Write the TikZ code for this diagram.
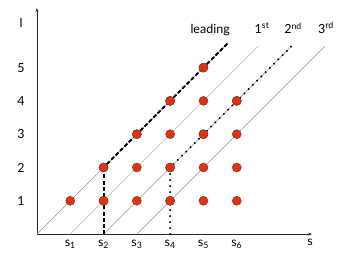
\documentclass[tikz,border=0pt]{standalone}
\usepackage{fontspec}
\setmainfont{Lato}
\usepackage{tikz}
\usetikzlibrary{arrows.meta,positioning}
\definecolor{dotred}{RGB}{240,45,5}
\definecolor{guidegray}{RGB}{150,150,150}

\begin{document}
\begin{tikzpicture}[x=33.3pt, y=33.3pt,
    every node/.style={font=\fontsize{12.5}{14}\selectfont},
    pt/.style={circle, fill=dotred, draw=black!70, line width=0.5pt, inner sep=0pt, minimum size=9pt},
    guide/.style={guidegray, line width=0.5pt},
    leadline/.style={line width=2pt, dash pattern=on 4pt off 2.2pt},
    dotline/.style={line width=2.2pt, line cap=round, dash pattern=on 0pt off 6pt}]
    \useasboundingbox (-1.11,-0.66) rectangle (9.16,7.03);
    % axes
    \coordinate (o) at (0,0);
    \draw[black!85, line width=0.7pt, -{Stealth[length=4pt,width=3pt]}] (o) -- (0,6.79) coordinate (ytop);
    \draw[black!85, line width=0.7pt, -{Stealth[length=4pt,width=3pt]}] (o) -- (8.26,0) coordinate (xend);
    % axis labels
    \node (lab) at (-0.48,6.34) {l};
    \node (sab) at (8.2,-0.25) {s};
    \foreach \j in {1,...,5}
      \node (lv\j) at (-0.48,\j) {\j};
    \foreach \i in {1,...,6}
      \node (sl\i) at (\i,-0.3) {s\textsubscript{\i}};
    % foot points of the diagonals
    \coordinate (f1) at (1,0);
    \coordinate (f2) at (2,0);
    \coordinate (f3) at (3,0);
    \coordinate (f4) at (4,0);
    \coordinate (e0) at (5.74,5.74);
    \coordinate (e1) at (6.65,5.65);
    \coordinate (e2) at (7.65,5.65);
    \coordinate (e3) at (8.65,5.65);
    % diagonals
    \draw[guide] (o) -- (e0);
    \draw[guide] (f1) -- (e1);
    \draw[guide] (f2) -- (e2);
    \draw[guide] (f3) -- (e3);
    % dots
    \foreach \i in {1,...,6}
      \foreach \j in {1,...,5}{
        \ifnum\j>\i\else
          \ifnum\i=6 \ifnum\j=5\else\node[pt] (d\i\j) at (\i,\j) {};\fi
          \else\node[pt] (d\i\j) at (\i,\j) {};\fi
        \fi
      }
    % leading and 2nd paths
    \draw[leadline] (f2) -- (d22.south);
    \draw[leadline] (d22) -- (d33) -- (d44) -- (d55) -- (e0);
    \draw[dotline] (f4) -- (d42);
    \draw[dotline] (d42) -- (d53) -- (d64) -- (e2);
    % redraw the dots on top
    \foreach \n in {d22,d33,d44,d55,d42,d53,d64,d21,d41}
      \node[pt] at (\n) {};
    % line labels
    \node (tl) at (5.2,6.13) {leading};
    \node (t1) at (6.76,6.19) {1\textsuperscript{st}};
    \node (t2) at (7.69,6.19) {2\textsuperscript{nd}};
    \node (t3) at (8.68,6.19) {3\textsuperscript{rd}};
\end{tikzpicture}
\end{document}
